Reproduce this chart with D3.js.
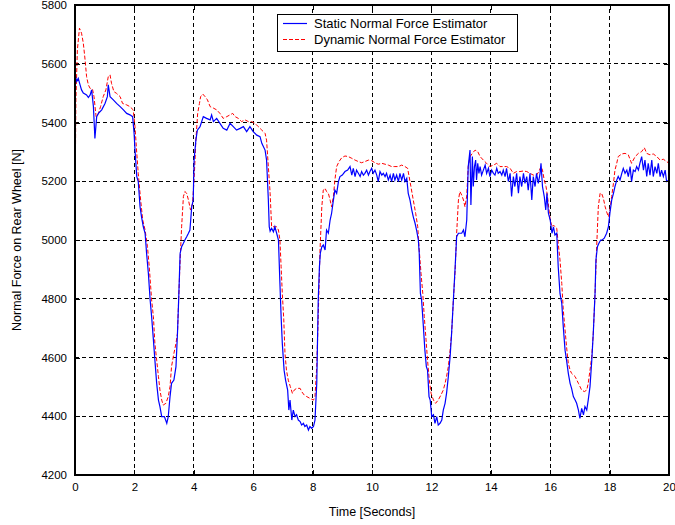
<!DOCTYPE html>
<html>
<head>
<meta charset="utf-8">
<script src="https://cdn.jsdelivr.net/npm/d3@7"></script>
<style>
  html, body { margin: 0; padding: 0; background: #fff; }
  svg { display: block; font-family: "Liberation Sans", Arial, Helvetica, sans-serif; }
</style>
</head>
<body>
<svg id="chart" width="675" height="525"></svg>
<script>
// Rear-wheel normal force estimates over a 20 s run.
const xTicks = [0, 2, 4, 6, 8, 10, 12, 14, 16, 18, 20];
const yTicks = [4200, 4400, 4600, 4800, 5000, 5200, 5400, 5600, 5800];

const seriesNames = ["Static Normal Force Estimator", "Dynamic Normal Force Estimator"];

// Static estimator: time [s] and force [N]
const staticTime = [
  0.00, 0.06, 0.11, 0.17, 0.22, 0.28, 0.39, 0.45, 0.51, 0.56, 0.62, 0.67, 0.73, 0.79, 0.90, 1.01, 1.09, 1.12, 1.18, 1.29,
  1.40, 1.52, 1.63, 1.74, 1.85, 1.94, 1.99, 2.02, 2.08, 2.13, 2.19, 2.24, 2.30, 2.36, 2.41, 2.47, 2.53, 2.58, 2.64, 2.69,
  2.75, 2.81, 2.86, 2.92, 3.01, 3.09, 3.14, 3.20, 3.25, 3.33, 3.40, 3.45, 3.49, 3.54, 3.59, 3.65, 3.70, 3.76, 3.82, 3.87,
  3.93, 3.98, 4.01, 4.07, 4.12, 4.21, 4.32, 4.43, 4.55, 4.60, 4.66, 4.77, 4.88, 4.99, 5.11, 5.22, 5.33, 5.44, 5.56, 5.67,
  5.78, 5.89, 6.00, 6.12, 6.23, 6.29, 6.40, 6.45, 6.51, 6.54, 6.57, 6.62, 6.68, 6.73, 6.79, 6.85, 6.90, 6.94, 6.98, 7.04,
  7.09, 7.16, 7.20, 7.24, 7.30, 7.35, 7.41, 7.46, 7.52, 7.58, 7.63, 7.69, 7.74, 7.80, 7.86, 7.91, 7.97, 8.03, 8.08, 8.14,
  8.19, 8.23, 8.26, 8.31, 8.36, 8.42, 8.47, 8.53, 8.59, 8.64, 8.70, 8.75, 8.81, 8.87, 8.92, 9.00, 9.09, 9.18, 9.26, 9.32,
  9.37, 9.43, 9.48, 9.54, 9.60, 9.65, 9.71, 9.76, 9.82, 9.88, 9.93, 9.99, 10.04, 10.10, 10.16, 10.21, 10.27, 10.33, 10.38, 10.44,
  10.49, 10.55, 10.61, 10.66, 10.72, 10.77, 10.83, 10.89, 10.94, 11.00, 11.06, 11.11, 11.17, 11.22, 11.28, 11.34, 11.39, 11.45, 11.50, 11.56,
  11.59, 11.63, 11.67, 11.73, 11.78, 11.83, 11.87, 11.92, 11.96, 12.01, 12.07, 12.12, 12.18, 12.23, 12.29, 12.35, 12.40, 12.46, 12.51, 12.57,
  12.63, 12.68, 12.74, 12.80, 12.85, 12.91, 13.02, 13.08, 13.13, 13.19, 13.24, 13.30, 13.33, 13.38, 13.41, 13.45, 13.49, 13.52, 13.56, 13.60,
  13.64, 13.69, 13.75, 13.81, 13.86, 13.92, 13.97, 14.03, 14.09, 14.14, 14.20, 14.25, 14.31, 14.37, 14.42, 14.48, 14.53, 14.59, 14.65, 14.70,
  14.76, 14.81, 14.87, 14.93, 14.98, 15.04, 15.10, 15.15, 15.21, 15.26, 15.32, 15.38, 15.43, 15.49, 15.54, 15.60, 15.66, 15.69, 15.74, 15.80,
  15.85, 15.89, 15.94, 16.00, 16.06, 16.11, 16.16, 16.22, 16.27, 16.33, 16.39, 16.44, 16.50, 16.55, 16.61, 16.67, 16.72, 16.78, 16.84, 16.89,
  16.95, 17.00, 17.06, 17.12, 17.17, 17.23, 17.28, 17.34, 17.40, 17.45, 17.51, 17.54, 17.59, 17.64, 17.70, 17.75, 17.82, 17.90, 17.96, 18.01,
  18.07, 18.13, 18.18, 18.24, 18.29, 18.35, 18.41, 18.46, 18.52, 18.58, 18.63, 18.69, 18.74, 18.80, 18.86, 18.91, 18.97, 19.02, 19.08, 19.14,
  19.19, 19.25, 19.30, 19.36, 19.42, 19.47, 19.53, 19.59, 19.64, 19.70, 19.75, 19.81, 19.87, 19.92, 20.00
];
const staticForce = [
  5562, 5540, 5550, 5528, 5511, 5500, 5494, 5485, 5494, 5511, 5454, 5346, 5420, 5431, 5443, 5465, 5488, 5528, 5488, 5477,
  5465, 5454, 5443, 5431, 5426, 5420, 5363, 5306, 5216, 5199, 5113, 5079, 5045, 5023, 4955, 4887, 4796, 4739, 4660, 4591,
  4512, 4455, 4433, 4399, 4399, 4376, 4399, 4467, 4512, 4523, 4569, 4682, 4796, 4955, 4977, 4989, 5000, 5011, 5023, 5034,
  5113, 5136, 5272, 5340, 5374, 5386, 5420, 5414, 5409, 5426, 5403, 5414, 5397, 5380, 5374, 5397, 5386, 5374, 5380, 5386,
  5369, 5386, 5369, 5357, 5352, 5329, 5306, 5272, 5136, 5045, 5030, 5040, 5028, 5045, 5023, 5000, 4852, 4739, 4648, 4557,
  4523, 4489, 4421, 4455, 4387, 4421, 4399, 4405, 4387, 4382, 4370, 4376, 4365, 4370, 4353, 4365, 4359, 4365, 4387, 4512,
  4796, 4909, 4955, 4977, 4983, 4966, 5034, 5023, 5068, 5091, 5136, 5170, 5159, 5199, 5216, 5221, 5233, 5238, 5250, 5221,
  5244, 5216, 5238, 5227, 5216, 5233, 5221, 5227, 5238, 5221, 5233, 5244, 5227, 5238, 5221, 5199, 5233, 5221, 5227, 5216,
  5227, 5204, 5221, 5199, 5227, 5204, 5221, 5199, 5227, 5204, 5227, 5199, 5210, 5159, 5136, 5102, 5079, 5057, 5034, 5000,
  4955, 4818, 4796, 4705, 4625, 4569, 4557, 4467, 4455, 4399, 4405, 4376, 4399, 4370, 4376, 4387, 4421, 4444, 4478, 4535,
  4603, 4682, 4796, 4909, 5011, 5023, 5023, 5034, 5011, 5068, 5250, 5306, 5119, 5284, 5182, 5250, 5272, 5204, 5261, 5227,
  5250, 5221, 5238, 5255, 5227, 5244, 5216, 5238, 5227, 5221, 5244, 5227, 5233, 5221, 5238, 5216, 5244, 5199, 5227, 5148,
  5216, 5182, 5227, 5159, 5216, 5182, 5227, 5193, 5216, 5170, 5227, 5136, 5216, 5182, 5227, 5193, 5227, 5261, 5182, 5148,
  5102, 5159, 5091, 5068, 5023, 5045, 5017, 5023, 4909, 4818, 4784, 4705, 4625, 4591, 4546, 4512, 4495, 4467, 4455, 4444,
  4421, 4393, 4427, 4405, 4433, 4421, 4455, 4501, 4591, 4682, 4818, 4932, 4977, 4989, 5000, 5000, 5006, 5023, 5045, 5091,
  5136, 5159, 5182, 5204, 5216, 5204, 5227, 5244, 5227, 5238, 5216, 5250, 5199, 5238, 5233, 5250, 5238, 5261, 5284, 5238,
  5272, 5216, 5261, 5221, 5272, 5216, 5250, 5227, 5261, 5216, 5238, 5216, 5238, 5199, 5204
];

// Dynamic estimator: time [s] and force [N]
const dynamicTime = [
  0.00, 0.03, 0.08, 0.15, 0.22, 0.28, 0.34, 0.39, 0.45, 0.51, 0.59, 0.64, 0.71, 0.79, 0.86, 0.95, 1.04, 1.12, 1.18, 1.23,
  1.31, 1.40, 1.52, 1.60, 1.74, 1.85, 1.96, 2.02, 2.08, 2.13, 2.21, 2.28, 2.36, 2.44, 2.50, 2.58, 2.64, 2.69, 2.75, 2.81,
  2.86, 2.92, 2.97, 3.06, 3.14, 3.20, 3.25, 3.33, 3.40, 3.45, 3.49, 3.54, 3.59, 3.65, 3.70, 3.76, 3.82, 3.89, 3.96, 4.02,
  4.07, 4.13, 4.19, 4.23, 4.30, 4.38, 4.46, 4.55, 4.66, 4.77, 4.88, 4.99, 5.11, 5.22, 5.31, 5.39, 5.50, 5.61, 5.72, 5.84,
  5.95, 6.06, 6.17, 6.29, 6.40, 6.45, 6.51, 6.57, 6.62, 6.79, 6.85, 6.90, 6.94, 6.98, 7.03, 7.07, 7.12, 7.18, 7.25, 7.32,
  7.38, 7.46, 7.58, 7.63, 7.72, 7.80, 7.91, 8.03, 8.08, 8.14, 8.19, 8.25, 8.31, 8.36, 8.42, 8.47, 8.53, 8.59, 8.64, 8.70,
  8.75, 8.81, 8.89, 8.98, 9.09, 9.20, 9.32, 9.43, 9.54, 9.65, 9.76, 9.88, 9.99, 10.10, 10.21, 10.33, 10.44, 10.55, 10.66, 10.77,
  10.89, 11.00, 11.11, 11.20, 11.24, 11.31, 11.39, 11.47, 11.54, 11.59, 11.65, 11.71, 11.76, 11.82, 11.87, 11.93, 11.99, 12.07, 12.14, 12.23,
  12.32, 12.40, 12.46, 12.51, 12.57, 12.63, 12.68, 12.74, 12.80, 12.85, 12.91, 12.96, 13.02, 13.08, 13.13, 13.19, 13.24, 13.30, 13.38, 13.47,
  13.56, 13.64, 13.75, 13.86, 13.97, 14.09, 14.20, 14.31, 14.42, 14.53, 14.65, 14.76, 14.87, 14.98, 15.10, 15.21, 15.32, 15.43, 15.54, 15.62,
  15.69, 15.74, 15.80, 15.86, 15.91, 15.96, 16.00, 16.06, 16.11, 16.16, 16.22, 16.27, 16.33, 16.39, 16.44, 16.50, 16.55, 16.61, 16.67, 16.72,
  16.84, 16.95, 17.06, 17.15, 17.23, 17.28, 17.34, 17.40, 17.45, 17.51, 17.56, 17.62, 17.68, 17.73, 17.79, 17.85, 17.90, 17.96, 18.01, 18.07,
  18.13, 18.18, 18.24, 18.29, 18.41, 18.52, 18.63, 18.74, 18.86, 18.97, 19.08, 19.17, 19.25, 19.36, 19.47, 19.59, 19.70, 19.81, 19.92, 20.00
];
const dynamicForce = [
  5102, 5477, 5647, 5721, 5704, 5670, 5613, 5556, 5528, 5516, 5513, 5488, 5420, 5431, 5454, 5488, 5511, 5556, 5562, 5533,
  5505, 5499, 5488, 5465, 5460, 5454, 5443, 5386, 5295, 5227, 5136, 5068, 5034, 4977, 4909, 4796, 4739, 4648, 4591, 4535,
  4489, 4455, 4438, 4444, 4467, 4501, 4569, 4614, 4648, 4682, 4796, 4932, 5045, 5148, 5165, 5159, 5136, 5102, 5125, 5227,
  5340, 5431, 5465, 5488, 5497, 5488, 5477, 5454, 5449, 5443, 5431, 5414, 5420, 5426, 5431, 5420, 5414, 5403, 5409, 5403,
  5403, 5397, 5386, 5374, 5363, 5340, 5250, 5159, 5045, 5045, 5034, 5000, 4909, 4818, 4728, 4614, 4557, 4523, 4501, 4478,
  4489, 4495, 4495, 4484, 4472, 4467, 4461, 4455, 4467, 4569, 4739, 4966, 5113, 5170, 5176, 5165, 5159, 5136, 5113, 5148,
  5204, 5250, 5267, 5280, 5286, 5284, 5278, 5272, 5267, 5263, 5267, 5272, 5270, 5263, 5258, 5261, 5258, 5255, 5250, 5250,
  5250, 5255, 5250, 5244, 5221, 5182, 5136, 5091, 5045, 4966, 4887, 4818, 4739, 4660, 4591, 4523, 4478, 4455, 4444, 4455,
  4472, 4489, 4512, 4535, 4569, 4625, 4682, 4796, 4898, 5023, 5136, 5165, 5153, 5136, 5113, 5150, 5250, 5284, 5295, 5306,
  5301, 5284, 5272, 5261, 5250, 5255, 5261, 5250, 5250, 5250, 5244, 5227, 5233, 5233, 5235, 5233, 5227, 5221, 5221, 5233,
  5250, 5238, 5204, 5182, 5148, 5102, 5068, 5045, 5051, 5045, 5040, 4989, 4932, 4852, 4762, 4694, 4637, 4580, 4557, 4546,
  4535, 4512, 4489, 4484, 4489, 4512, 4557, 4603, 4682, 4818, 4966, 5113, 5159, 5159, 5142, 5113, 5096, 5079, 5102, 5148,
  5193, 5238, 5261, 5284, 5293, 5295, 5290, 5261, 5284, 5295, 5301, 5314, 5295, 5290, 5293, 5284, 5272, 5275, 5267, 5261
];

const svg = d3.select("#chart");
const margin = { left: 75, right: 6, top: 5, bottom: 50 };
const W = 675, H = 525;
const x0 = margin.left, x1 = W - margin.right, y0 = H - margin.bottom, y1 = margin.top;

const x = d3.scaleLinear().domain([0, 20]).range([x0, x1]);
const y = d3.scaleLinear().domain([4200, 5800]).range([y0, y1]);

// dashed grid
const grid = svg.append("g").attr("stroke", "#000").attr("stroke-width", 1)
  .attr("stroke-dasharray", "4,3").attr("shape-rendering", "crispEdges");
grid.selectAll("line.gx").data(xTicks.slice(1, -1)).join("line")
  .attr("x1", d => x(d)).attr("x2", d => x(d)).attr("y1", y0).attr("y2", y1);
grid.selectAll("line.gy").data(yTicks.slice(1, -1)).join("line")
  .attr("y1", d => y(d)).attr("y2", d => y(d)).attr("x1", x0).attr("x2", x1);

// clip
svg.append("clipPath").attr("id", "plotClip").append("rect")
  .attr("x", x0).attr("y", y1).attr("width", x1 - x0).attr("height", y0 - y1);

const line = d3.line().x(d => x(d[0])).y(d => y(d[1]));
const staticPts = staticTime.map((t, i) => [t, staticForce[i]]);
const dynamicPts = dynamicTime.map((t, i) => [t, dynamicForce[i]]);

const plot = svg.append("g").attr("clip-path", "url(#plotClip)");
plot.append("path").datum(dynamicPts).attr("d", line)
  .attr("fill", "none").attr("stroke", "#ff0000").attr("stroke-width", 1)
  .attr("stroke-dasharray", "4,2");
plot.append("path").datum(staticPts).attr("d", line)
  .attr("fill", "none").attr("stroke", "#0000ff").attr("stroke-width", 1.2);

// axes (ticks pointing inward)
const tickFont = 11.5;
const fmt = d3.format("d");
const axB = svg.append("g").attr("transform", `translate(0,${y0})`)
  .call(d3.axisBottom(x).tickValues(xTicks).tickFormat(fmt).tickSizeInner(-5).tickSizeOuter(0).tickPadding(8));
const axT = svg.append("g").attr("transform", `translate(0,${y1})`)
  .call(d3.axisTop(x).tickValues(xTicks).tickSizeInner(-5).tickSizeOuter(0).tickFormat(""));
const axL = svg.append("g").attr("transform", `translate(${x0},0)`)
  .call(d3.axisLeft(y).tickValues(yTicks).tickFormat(fmt).tickSizeInner(-5).tickSizeOuter(0).tickPadding(8));
const axR = svg.append("g").attr("transform", `translate(${x1},0)`)
  .call(d3.axisRight(y).tickValues(yTicks).tickSizeInner(-5).tickSizeOuter(0).tickFormat(""));
[axB, axT, axL, axR].forEach(a => {
  a.select(".domain").remove();
  a.selectAll("line").attr("stroke", "#000").attr("shape-rendering", "crispEdges");
  a.selectAll("text").attr("font-size", tickFont).attr("fill", "#000")
    .attr("font-family", "'Liberation Sans', Arial, sans-serif");
});

// frame
svg.append("rect").attr("x", x0).attr("y", y1).attr("width", x1 - x0).attr("height", y0 - y1)
  .attr("fill", "none").attr("stroke", "#000").attr("stroke-width", 1.2).attr("shape-rendering", "crispEdges");

// axis titles
svg.append("text").attr("x", (x0 + x1) / 2).attr("y", 516).attr("text-anchor", "middle")
  .attr("font-size", 12.5).text("Time [Seconds]");
svg.append("text").attr("transform", `translate(21,${(y0 + y1) / 2}) rotate(-90)`)
  .attr("text-anchor", "middle").attr("font-size", 12.5).text("Normal Force on Rear Wheel [N]");

// legend
const lg = svg.append("g").attr("transform", "translate(277,14)");
lg.append("rect").attr("width", 240).attr("height", 37).attr("fill", "#fff")
  .attr("stroke", "#000").attr("stroke-width", 1).attr("shape-rendering", "crispEdges");
const legendStyles = [
  { color: "#0000ff", dash: null },
  { color: "#ff0000", dash: "4,2" }
];
seriesNames.forEach((name, i) => {
  const cy = 9.5 + i * 16;
  lg.append("line").attr("x1", 6).attr("x2", 30).attr("y1", cy).attr("y2", cy)
    .attr("stroke", legendStyles[i].color).attr("stroke-width", 1.2)
    .attr("stroke-dasharray", legendStyles[i].dash);
  lg.append("text").attr("x", 37).attr("y", cy).attr("dy", "0.35em")
    .attr("font-size", 13).text(name);
});
</script>
</body>
</html>
